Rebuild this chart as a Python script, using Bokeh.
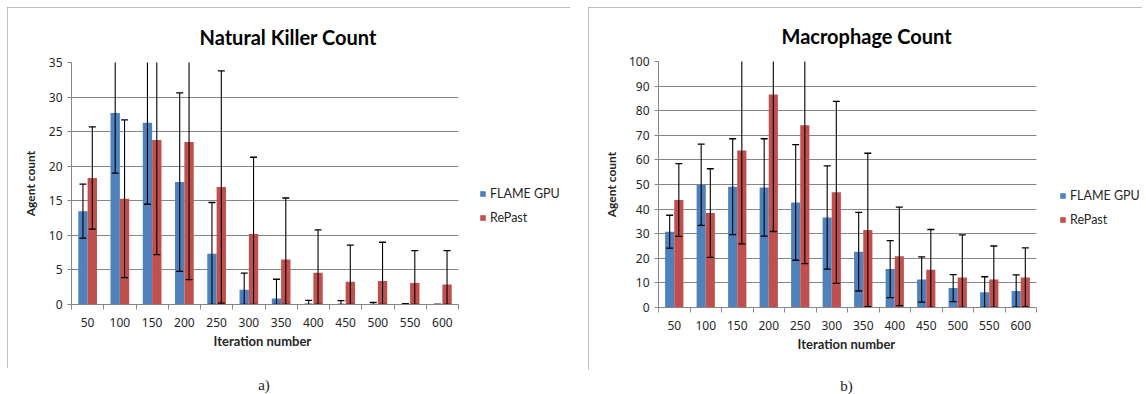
from bokeh.plotting import figure
from bokeh.models import (ColumnDataSource, FixedTicker, Legend, LegendItem, Div, Range1d, Title)
from bokeh.layouts import row, column
from bokeh.embed import file_html
from bokeh.resources import INLINE

# ---------------- data ----------------
categories = ["50", "100", "150", "200", "250", "300", "350", "400", "450", "500", "550", "600"]

nk_flame = [13.5, 27.7, 26.3, 17.7, 7.35, 2.15, 0.85, 0.1, 0.05, 0.05, 0.02, 0.0]
nk_flame_err = [3.9, 8.7, 11.8, 12.9, 7.4, 2.4, 2.8, 0.5, 0.5, 0.25, 0.1, 0.0]
nk_repast = [18.3, 15.3, 23.8, 23.5, 17.0, 10.2, 6.5, 4.6, 3.3, 3.4, 3.1, 2.9]
nk_repast_err = [7.4, 11.4, 16.6, 19.9, 16.8, 11.1, 8.9, 6.2, 5.3, 5.6, 4.7, 4.9]

mac_flame = [30.8, 49.9, 49.1, 48.8, 42.7, 36.6, 22.7, 15.6, 11.4, 7.9, 6.2, 6.7]
mac_flame_err = [6.7, 16.5, 19.5, 19.8, 23.5, 21.0, 16.0, 11.6, 9.2, 5.5, 6.3, 6.6]
mac_repast = [43.7, 38.4, 63.8, 86.6, 74.1, 46.8, 31.5, 20.8, 15.3, 12.2, 11.4, 12.2]
mac_repast_err = [14.8, 18.0, 37.9, 55.7, 56.3, 37.0, 31.2, 20.0, 16.4, 17.3, 13.6, 12.0]

series_names = ["FLAME GPU", "RePast"]
x_title = "Iteration number"
y_title = "Agent count"

BLUE = "#4F81BD"
RED = "#C0504D"
GRID = "#868686"
TXT = "#262626"
FONT = "Lato"


def make_chart(title, flame, flame_err, repast, repast_err, y_max, y_step,
               width, height, bl, plot_px, bt, bb, title_offset, xlabel_offset,
               legend_dx, legend_y, label_standoff):
    n = len(categories)
    xs = list(range(1, n + 1))
    br = 2
    frame_w = width - bl - br
    unit_px = plot_px / n
    x_end = 0.5 + frame_w / unit_px

    def src(m, e, off):
        return ColumnDataSource(dict(
            x=[x + off for x in xs],
            top=m,
            lo=[max(0.0, a - b) for a, b in zip(m, e)],
            hi=[a + b for a, b in zip(m, e)],
        ))

    p = figure(width=width, height=height, output_backend="svg", toolbar_location=None,
               x_range=Range1d(0.5, x_end), y_range=Range1d(0, y_max),
               min_border_left=bl, min_border_right=br, min_border_top=bt, min_border_bottom=bb,
               background_fill_color="white", border_fill_color="white")
    p.outline_line_color = None
    p.xgrid.visible = False
    yt = list(range(0, y_max + 1, y_step))
    yg = p.ygrid[0]
    yg.ticker = FixedTicker(ticks=yt)
    yg.grid_line_color = GRID
    yg.grid_line_width = 1
    yg.cross_bounds = (0.5, n + 0.5)

    p.title.text = title
    p.title.align = "left"
    p.title.vertical_align = "top"
    p.title.offset = title_offset
    p.title.standoff = 24
    p.title.text_font = FONT
    p.title.text_font_style = "bold"
    p.title.text_font_size = "20px"
    p.title.text_color = "black"

    bw = 0.29
    renderers = []
    for m, e, off, col in [(flame, flame_err, -bw / 2, BLUE), (repast, repast_err, bw / 2, RED)]:
        s = src(m, e, off)
        r = p.vbar(x="x", top="top", width=bw, source=s, fill_color=col, line_color=None)
        renderers.append(r)
        p.segment(x0="x", y0="lo", x1="x", y1="hi", source=s, line_color="black", line_width=1.1)
        p.scatter(x="x", y="hi", marker="dash", size=7, source=s, line_color="black", line_width=1.3)
        p.scatter(x="x", y="lo", marker="dash", size=7, source=s, line_color="black", line_width=1.3)

    # x axis
    xa = p.xaxis[0]
    xa.bounds = (0.5, n + 0.5)
    xa.ticker = FixedTicker(ticks=xs, minor_ticks=[x - 0.5 for x in xs] + [n + 0.5])
    xa.major_label_overrides = {x: c for x, c in zip(xs, categories)}
    xa.major_tick_line_color = None
    xa.major_tick_out = 0
    xa.major_tick_in = 0
    xa.minor_tick_line_color = GRID
    xa.minor_tick_out = 5
    xa.minor_tick_in = 0
    xa.axis_line_color = GRID
    xa.major_label_text_font = "Noto Sans"
    xa.major_label_text_font_size = "12px"
    xa.major_label_text_color = TXT
    xa.major_label_standoff = 8

    # x-axis title, centred under the bounded axis
    p.add_layout(Title(text=x_title, align="left", offset=xlabel_offset, standoff=3,
                       text_font=FONT, text_font_style="bold", text_font_size="13px",
                       text_color=TXT), "below")

    ya = p.yaxis[0]
    ya.ticker = FixedTicker(ticks=yt)
    ya.minor_tick_line_color = None
    ya.major_tick_out = 4
    ya.major_tick_in = 0
    ya.major_tick_line_color = GRID
    ya.axis_line_color = GRID
    ya.major_label_text_font = "Noto Sans"
    ya.major_label_text_font_size = "12px"
    ya.major_label_text_color = TXT
    ya.major_label_standoff = 5
    ya.axis_label = y_title
    ya.axis_label_text_font = FONT
    ya.axis_label_text_font_style = "bold"
    ya.axis_label_text_font_size = "12px"
    ya.axis_label_text_color = TXT
    ya.axis_label_standoff = label_standoff

    legend = Legend(items=[LegendItem(label=series_names[0], renderers=[renderers[0]]),
                           LegendItem(label=series_names[1], renderers=[renderers[1]])],
                    location=(plot_px + legend_dx, legend_y), glyph_width=7, glyph_height=7,
                    label_height=21, spacing=3, padding=0, margin=0,
                    border_line_color=None, background_fill_alpha=0,
                    label_text_font=FONT, label_text_font_size="12.5px",
                    label_text_color=TXT, label_standoff=4)
    p.add_layout(legend)
    p.styles = {"outline": "1px solid #a8a8a8", "outline-offset": "-1px"}
    return p


p1 = make_chart("Natural Killer Count", nk_flame, nk_flame_err, nk_repast, nk_repast_err,
                35, 5, 563, 361, 64, 387, 55, 64, 128, 142, 21, 76, 8)
p1.margin = (7, 0, 0, 7)
p2 = make_chart("Macrophage Count", mac_flame, mac_flame_err, mac_repast, mac_repast_err,
                100, 10, 554, 363, 70, 378, 54, 63, 123, 139, 23, 77, 7)
p2.margin = (7, 0, 0, 18)

cap_style = {"text-align": "center", "font-family": "Liberation Serif", "font-size": "15px",
             "color": "#222"}
div_a = Div(text="a)", width=514, height=20, styles=cap_style)
div_a.margin = (7, 0, 0, 7)
div_b = Div(text="b)", width=517, height=20, styles=cap_style)
div_b.margin = (6, 0, 0, 18)

layout = row(column(p1, div_a), column(p2, div_b), spacing=0)

open("out.html", "w").write(file_html(layout, INLINE))
